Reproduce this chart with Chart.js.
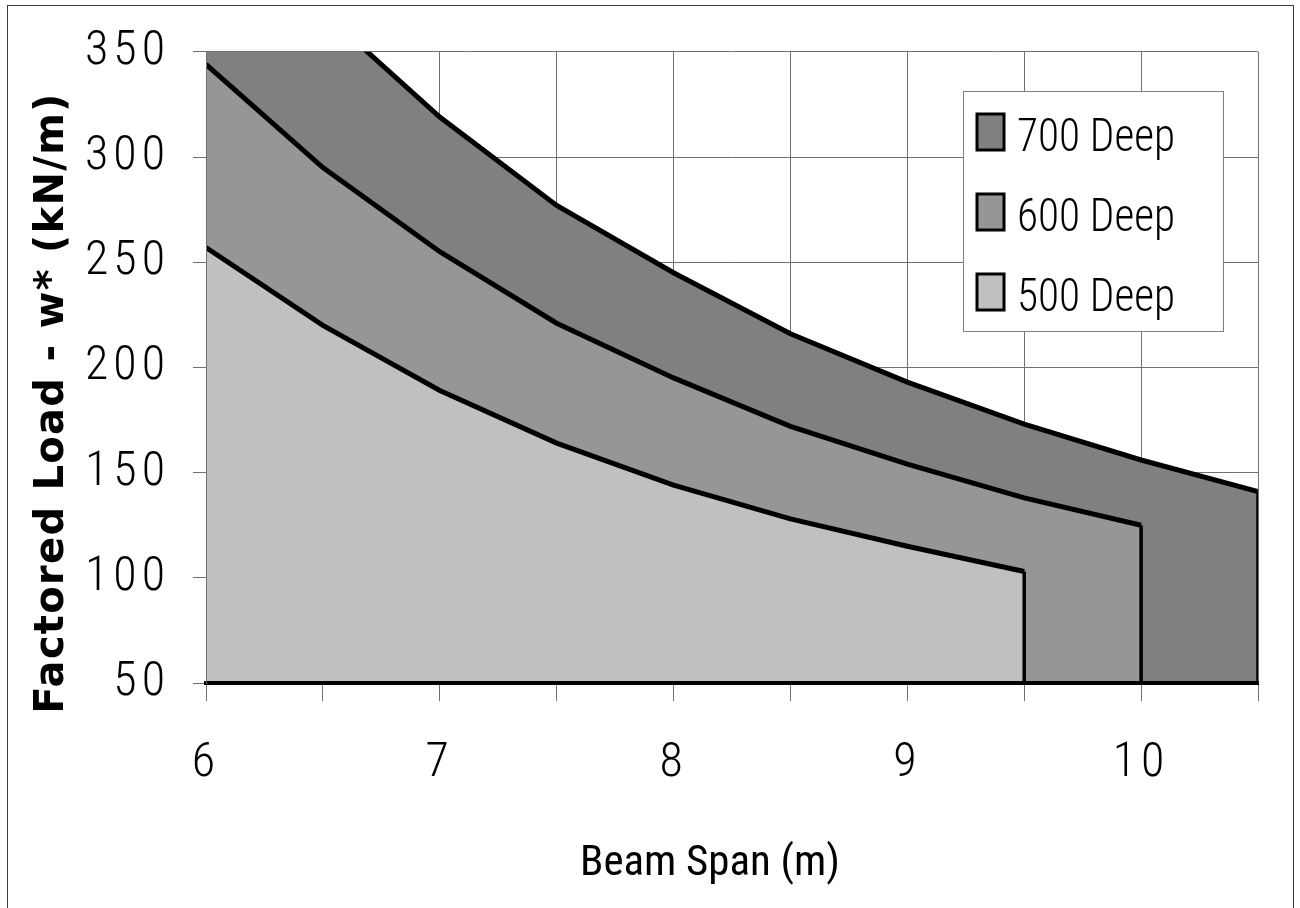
<!DOCTYPE html>
<html>
<head>
<meta charset="utf-8">
<script src="https://cdn.jsdelivr.net/npm/chart.js@4"></script>
<style>
  html, body { margin: 0; padding: 0; background: #fff; }
  #wrap { width: 1300px; height: 908px; position: relative; }
</style>
</head>
<body>
<div id="wrap"><canvas id="chart" width="1300" height="908"></canvas></div>
<script>
// ── Data ──────────────────────────────────────────
const spans    = [6, 6.5, 7, 7.5, 8, 8.5, 9, 9.5, 10, 10.5];
const deep700  = [432, 369, 319, 277, 245, 216, 193, 173, 156, 141];
const deep600  = [344, 295, 255, 221, 195, 172, 154, 138, 125];
const deep500  = [257, 220, 189, 164, 144, 128, 115, 103];
const seriesLabels = ['700 Deep', '600 Deep', '500 Deep'];
const seriesFills  = ['#808080', '#969696', '#c0c0c0'];
const xTickLabels  = ['6', '7', '8', '9', '10'];
const yMin = 50, yMax = 350, yStep = 50;
const xMin = 6, xMax = 10.5, xStep = 0.5;
const xTitle = 'Beam Span (m)';
const yTitle = 'Factored Load - w* (kN/m)';

const THIN = "'Roboto Condensed', 'Liberation Sans Narrow', Roboto, 'DejaVu Sans Condensed', sans-serif";

// each area closes with a vertical drop to the axis floor at its last span
function toPoints(values) {
  const pts = values.map((v, i) => ({ x: spans[i], y: v }));
  pts.push({ x: spans[values.length - 1], y: yMin });
  return pts;
}

function areaSet(label, values, fillColor, order) {
  return {
    label: label,
    data: toPoints(values),
    backgroundColor: fillColor,
    borderColor: '#000',
    borderWidth: 5,
    borderJoinStyle: 'miter',
    // the closing drop is drawn a bit lighter than the curve
    segment: {
      borderWidth: (c) => (c.p0.parsed.x === c.p1.parsed.x ? 3.5 : 5)
    },
    fill: 'start',
    pointRadius: 0,
    tension: 0,
    clip: 0,
    order: order
  };
}

// draw text squeezed/stretched to a given width (the source font is very condensed)
function fitText(ctx, text, x, y, width) {
  const w = ctx.measureText(text).width;
  ctx.save();
  ctx.translate(x, y);
  ctx.scale(width / w, 1);
  ctx.fillText(text, 0, 0);
  ctx.restore();
}

// ── Plugins ───────────────────────────────────────
const spacedTicks = {
  id: 'spacedTicks',
  beforeDraw(chart) {
    chart.ctx.letterSpacing = '5px';
  }
};

const decorations = {
  id: 'decorations',
  afterDraw(chart) {
    const ctx = chart.ctx;
    ctx.save();
    ctx.letterSpacing = '0px';

    // outer frame
    ctx.strokeStyle = '#404040';
    ctx.lineWidth = 1;
    ctx.strokeRect(7.5, 5.5, 1286, 920);

    // y title
    ctx.save();
    ctx.translate(63, 403);
    ctx.rotate(-Math.PI / 2);
    ctx.font = 'bold 40px "DejaVu Sans"';
    ctx.fillStyle = '#000';
    ctx.textAlign = 'center';
    ctx.textBaseline = 'alphabetic';
    const w = ctx.measureText(yTitle).width;
    ctx.letterSpacing = ((620 - w) / (yTitle.length - 1)) + 'px';
    ctx.fillText(yTitle, 0, 0);
    ctx.restore();

    // x title
    ctx.font = '400 42px ' + THIN;
    ctx.fillStyle = '#000';
    ctx.textAlign = 'left';
    ctx.textBaseline = 'alphabetic';
    fitText(ctx, xTitle, 580, 875, 260);

    // legend box
    const lx = 963, ly = 91, lw = 260, lh = 240;
    ctx.fillStyle = '#fff';
    ctx.fillRect(lx, ly, lw, lh);
    ctx.strokeStyle = '#808080';
    ctx.lineWidth = 1;
    ctx.strokeRect(lx + 0.5, ly + 0.5, lw, lh);

    ctx.font = '300 47px ' + THIN;
    chart.data.datasets.forEach((ds, i) => {
      const top = 114 + i * 80;
      ctx.fillStyle = ds.backgroundColor;
      ctx.fillRect(977, top, 27, 36);
      ctx.strokeStyle = '#000';
      ctx.lineWidth = 3;
      ctx.strokeRect(977, top, 27, 36);
      ctx.fillStyle = '#000';
      fitText(ctx, ds.label, 1017, top + 37, 158);
    });
    ctx.restore();
  }
};

// ── Chart ─────────────────────────────────────────
const ctx = document.getElementById('chart').getContext('2d');
new Chart(ctx, {
  type: 'line',
  data: {
    datasets: [
      areaSet(seriesLabels[0], deep700, seriesFills[0], 3),
      areaSet(seriesLabels[1], deep600, seriesFills[1], 2),
      areaSet(seriesLabels[2], deep500, seriesFills[2], 1)
    ]
  },
  options: {
    responsive: false,
    animation: false,
    devicePixelRatio: 1,
    layout: { padding: { left: 0, top: 46, right: 42, bottom: 0 } },
    plugins: {
      legend: { display: false },
      tooltip: { enabled: false }
    },
    scales: {
      x: {
        type: 'linear',
        min: xMin,
        max: xMax,
        afterFit(scale) { scale.height = 225; },
        grid: { color: '#707070', lineWidth: 1, tickLength: 18 },
        border: { color: '#000', width: 4, z: 1 },
        ticks: {
          stepSize: xStep,
          autoSkip: false,
          maxRotation: 0,
          padding: 34,
          color: '#000',
          font: { family: THIN, size: 48, weight: '300' },
          callback: (v) => xTickLabels.find(t => Number(t) === v) || ''
        }
      },
      y: {
        min: yMin,
        max: yMax,
        afterFit(scale) { scale.width = 206; },
        grid: { color: '#707070', lineWidth: 1, tickLength: 13 },
        border: { color: '#707070', width: 1, z: 1 },
        ticks: {
          stepSize: yStep,
          padding: 23,
          color: '#000',
          font: { family: THIN, size: 48, weight: '300' }
        }
      }
    }
  },
  plugins: [spacedTicks, decorations]
});
</script>
</body>
</html>
